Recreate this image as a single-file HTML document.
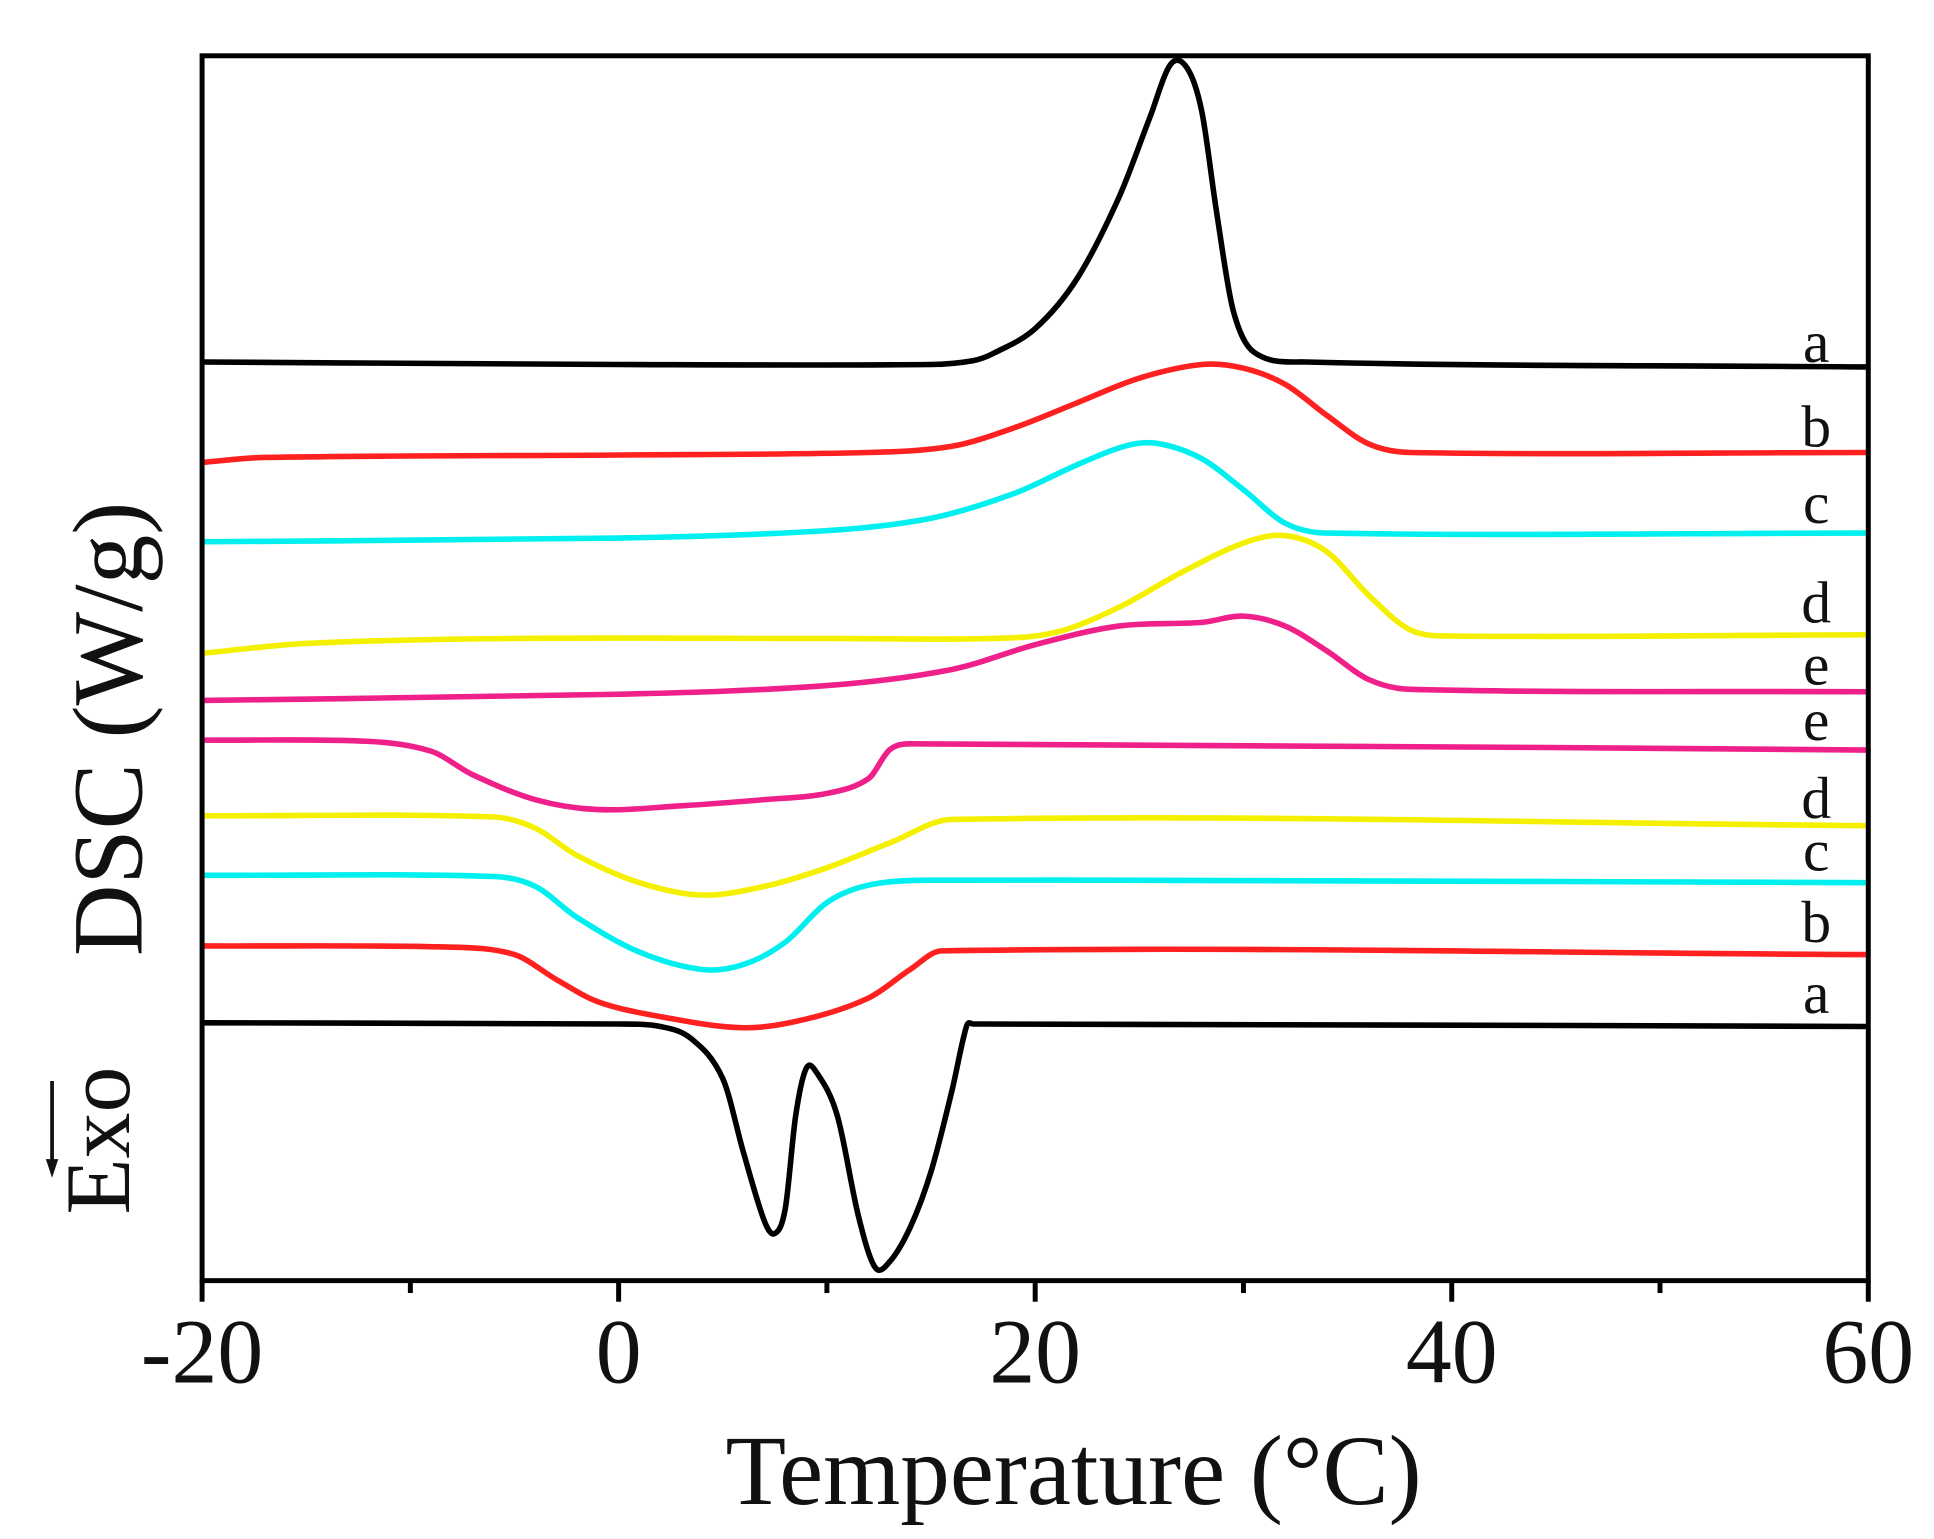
<!DOCTYPE html>
<html><head><style>html,body{margin:0;padding:0;background:#fff;width:1934px;height:1539px;overflow:hidden}</style></head>
<body>
<svg id="s" width="1934" height="1539" viewBox="0 0 1560 1241.4" preserveAspectRatio="none" xmlns="http://www.w3.org/2000/svg" font-family="Liberation Serif, serif">
<rect width="1560" height="1242" fill="#fff"/>
<g id="curves" fill="none" stroke-width="4.5" stroke-linejoin="round"></g>
<rect x="163" y="45" width="1344" height="988" fill="none" stroke="#000" stroke-width="4"/>
<g stroke="#000" stroke-width="4">
<line x1="163" y1="1033" x2="163" y2="1050"/><line x1="499" y1="1033" x2="499" y2="1050"/><line x1="835" y1="1033" x2="835" y2="1050"/><line x1="1171" y1="1033" x2="1171" y2="1050"/><line x1="1507" y1="1033" x2="1507" y2="1050"/>
<line x1="331" y1="1033" x2="331" y2="1043"/><line x1="667" y1="1033" x2="667" y2="1043"/><line x1="1003" y1="1033" x2="1003" y2="1043"/><line x1="1339" y1="1033" x2="1339" y2="1043"/>
</g>
<g font-size="74" text-anchor="middle" fill="#111">
<text x="163" y="1115">-20</text><text x="499" y="1115">0</text><text x="835" y="1115">20</text><text x="1171" y="1115">40</text><text x="1507" y="1115">60</text>
</g>
<text x="866" y="1213" font-size="80" text-anchor="middle" fill="#111">Temperature (°C)</text>
<text transform="translate(114,588) rotate(-90)" font-size="80" text-anchor="middle" fill="#111">DSC (W/g)</text>
<text transform="translate(104,920) rotate(-90)" font-size="74" text-anchor="middle" fill="#111">Exo</text>
<line x1="42" y1="872" x2="42" y2="945" stroke="#111" stroke-width="3"/>
<polygon points="42,950 37,935 47,935" fill="#111"/>
<g font-size="48" text-anchor="middle" fill="#111">
<text x="1465" y="292">a</text><text x="1465" y="360">b</text><text x="1465" y="422">c</text><text x="1465" y="502">d</text><text x="1465" y="552">e</text><text x="1465" y="597">e</text><text x="1465" y="660">d</text><text x="1465" y="702">c</text><text x="1465" y="760">b</text><text x="1465" y="817">a</text>
</g>
</svg>
<script>
const X=t=>163+(t+20)*16.8;
const C={
'#000':[[[-20,292],[0,294],[15,294],[17,291],[18,285],[20,265],[22,225],[24,160],[25.5,95],[26.5,52],[27.3,55],[28,90],[28.7,170],[29.5,250],[30.5,284],[33,292],[60,296]],
[[-20,825],[0,826],[2,828],[3.5,838],[5,870],[6,930],[7,985],[7.5,995],[8,975],[8.5,900],[9,862],[9.5,865],[10.5,900],[11.5,980],[12.3,1022],[13,1018],[14,990],[15,945],[16,880],[16.7,828],[17,826],[60,828]]],
'#ff2020':[[[-20,373],[-17,369],[0,367],[12,365],[16,360],[19,345],[22,325],[25,305],[28,294],[30,297],[32,310],[34,335],[36,358],[38,365],[60,365]],
[[-20,763],[-8,764],[-5,770],[-3,790],[-1,808],[2,820],[6,829],[9,822],[12,805],[14,782],[15.5,767],[60,770]]],
'#00f0f0':[[[-20,437],[0,434],[10,428],[15,418],[19,398],[22,375],[24.5,359],[26,358],[28,370],[30,395],[32,422],[34,430],[60,430]],
[[-20,706],[-6,707],[-4,715],[-2,740],[1,768],[4,782],[6,778],[8,760],[10,728],[12,714],[15,710],[60,712]]],
'#f5f000':[[[-20,527],[-15,519],[-5,515],[10,515],[18,515],[21,510],[24,490],[27,462],[30,438],[32,432],[34,445],[36,480],[38,508],[40,513],[60,512]],
[[-20,658],[-6,659],[-4,668],[-2,690],[1,712],[4,722],[7,715],[10,700],[13,680],[16,661],[60,666]]],
'#f0208a':[[[-20,565],[0,560],[10,553],[16,540],[20,520],[24,505],[28,502],[30,497],[32,505],[34,525],[36,548],[38,556],[60,558]],
[[-20,597],[-12,598],[-9,606],[-7,625],[-4,645],[-1,653],[3,650],[7,645],[10,640],[12,628],[13,605],[14,600],[60,605]]]};
const g=document.getElementById('curves');
function path(pts){const p=pts.map(a=>[X(a[0]),a[1]]);let d='M'+p[0][0]+','+p[0][1];
for(let i=0;i<p.length-1;i++){const p0=p[Math.max(0,i-1)],p1=p[i],p2=p[i+1],p3=p[Math.min(p.length-1,i+2)];
const h=p2[0]-p1[0];
const s1=(p2[1]-p0[1])/(p2[0]-p0[0]||1),s2=(p3[1]-p1[1])/(p3[0]-p1[0]||1);
const c1=[p1[0]+h/3,p1[1]+s1*h/3],c2=[p2[0]-h/3,p2[1]-s2*h/3];
d+=` C${c1[0]},${c1[1]} ${c2[0]},${c2[1]} ${p2[0]},${p2[1]}`;}return d;}
for(const col in C){for(const pts of C[col]){const e=document.createElementNS('http://www.w3.org/2000/svg','path');e.setAttribute('d',path(pts));e.setAttribute('stroke',col);g.appendChild(e);}}
</script>
</body></html>
